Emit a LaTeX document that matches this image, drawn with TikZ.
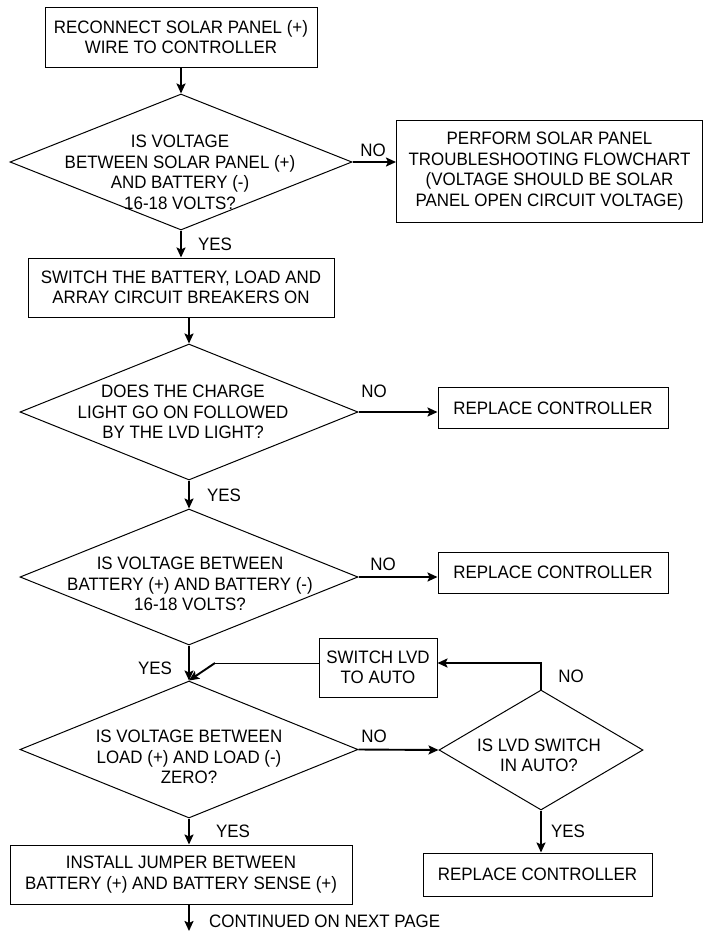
\documentclass[tikz,border=0pt]{standalone}
\usepackage{fontspec}
\setmainfont[FakeStretch=0.94]{Liberation Sans}
\usetikzlibrary{arrows.meta,shapes.geometric,calc}
\begin{document}
\begin{tikzpicture}[x=1pt,y=-1pt,
  every node/.style={font=\fontsize{18}{20.5}\selectfont},
  box/.style={draw,line width=1pt,inner sep=0pt,align=center},
  dia/.style={draw,diamond,line width=1pt,inner sep=0pt},
  txt/.style={inner sep=0pt,align=center},
  lbl/.style={inner sep=0pt},
  arr/.style={line width=1.9pt,-{Stealth[length=10pt,width=9pt,inset=2pt]}},
  thinline/.style={line width=1pt}
]
\useasboundingbox (0,0) rectangle (704,932);

\node[box,minimum width=272pt,minimum height=60pt] (b1) at (181,37) {RECONNECT SOLAR PANEL (+)\\WIRE TO CONTROLLER};
\node[dia,minimum width=342pt,minimum height=136pt] (d1) at (181,162) {};
\node[txt] (t1) at (180,172.5) {IS VOLTAGE\\BETWEEN SOLAR PANEL (+)\\AND BATTERY (-)\\16-18 VOLTS?};
\node[box,minimum width=306pt,minimum height=102pt] (b2) at (549.5,171) {PERFORM SOLAR PANEL\\TROUBLESHOOTING FLOWCHART\\(VOLTAGE SHOULD BE SOLAR\\PANEL OPEN CIRCUIT VOLTAGE)};
\node[box,minimum width=306pt,minimum height=59pt] (b3) at (181,287.5) {SWITCH THE BATTERY, LOAD AND\\ARRAY CIRCUIT BREAKERS ON};
\node[dia,minimum width=338pt,minimum height=136pt] (d2) at (189,412) {};
\node[txt] (t2) at (183,412) {DOES THE CHARGE\\LIGHT GO ON FOLLOWED\\BY THE LVD LIGHT?};
\node[box,minimum width=230pt,minimum height=41pt] (r1) at (553,408) {REPLACE CONTROLLER};
\node[dia,minimum width=338pt,minimum height=136pt] (d3) at (189,577) {};
\node[txt] (t3) at (190,584) {IS VOLTAGE BETWEEN\\BATTERY (+) AND BATTERY (-)\\16-18 VOLTS?};
\node[box,minimum width=230pt,minimum height=41pt] (r2) at (553,572.5) {REPLACE CONTROLLER};
\node[box,minimum width=118pt,minimum height=59pt] (sl) at (378,667.5) {SWITCH LVD\\TO AUTO};
\node[dia,minimum width=338pt,minimum height=137pt] (d4) at (189,749.5) {};
\node[txt] (t4) at (189,757) {IS VOLTAGE BETWEEN\\LOAD (+) AND LOAD (-)\\ZERO?};
\node[dia,minimum width=204pt,minimum height=120pt] (dl) at (541,750) {};
\node[txt] (tl) at (539,755.5) {IS LVD SWITCH\\IN AUTO?};
\node[box,minimum width=342pt,minimum height=59pt] (b4) at (181,874.5) {INSTALL JUMPER BETWEEN\\BATTERY (+) AND BATTERY SENSE (+)};
\node[box,minimum width=229pt,minimum height=43pt] (r3) at (537.5,874.5) {REPLACE CONTROLLER};
\coordinate (endpt) at (189,931);
\coordinate (j) at (215,663);

\node[lbl] (y1) at (215,244) {YES};
\node[lbl] (n1) at (373,150) {NO};
\node[lbl] (y2) at (224,495) {YES};
\node[lbl] (n2) at (374,391) {NO};
\node[lbl] (n3) at (383,564) {NO};
\node[lbl] (y3) at (155,668) {YES};
\node[lbl] (n4) at (374,736) {NO};
\node[lbl] (n5) at (571,676) {NO};
\node[lbl] (y4) at (233,831) {YES};
\node[lbl] (y5) at (568,831) {YES};
\node[lbl,anchor=west] (cont) at (209,921) {CONTINUED ON NEXT PAGE};

\draw[arr] (b1.south) -- (d1.north);
\draw[arr] (d1.east) -- (d1.east -| b2.west);
\draw[arr] (d1.south) -- (b3.north);
\draw[arr] (b3.south -| d2.north) -- (d2.north);
\draw[arr] (d2.east) -- (d2.east -| r1.west);
\draw[arr] (d2.south) -- (d3.north);
\draw[arr] (d3.east) -- (d3.east -| r2.west);
\draw[arr] (d3.south) -- (d4.north);
\draw[thinline] (sl.west |- j) -- (j);
\draw[arr] (j) -- (d4.north);
\draw[arr] (d4.east) -- (dl.west);
\draw[arr] (dl.north) |- (sl.east |- j);
\draw[arr] (dl.south) -- (dl.south |- r3.north);
\draw[arr] (d4.south) -- (d4.south |- b4.north);
\draw[arr] (b4.south -| d4.south) -- (endpt);
\end{tikzpicture}
\end{document}
